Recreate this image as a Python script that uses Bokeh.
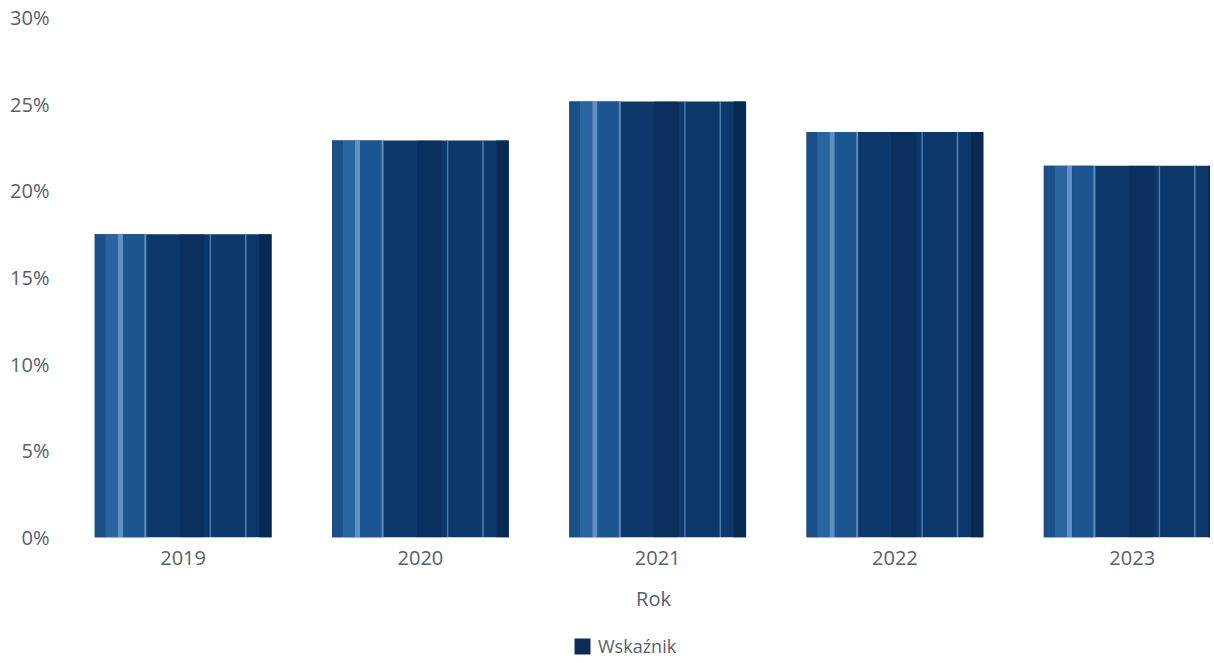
from bokeh.plotting import figure
from bokeh.models import FixedTicker, NumeralTickFormatter, Legend, LegendItem, Range1d
from bokeh.layouts import column
from bokeh.core.properties import value
from bokeh.embed import file_html
from bokeh.resources import INLINE

years = ["2019", "2020", "2021", "2022", "2023"]
values = [0.175, 0.229, 0.2515, 0.234, 0.2145]
y_ticks = [0.0, 0.05, 0.10, 0.15, 0.20, 0.25, 0.30]
x_title = "Rok"
series_name = "Wskaźnik"

idx = list(range(len(years)))
FONT = "Open Sans"
LABEL_COLOR = "#56606b"
BAR_COLOR = "#0d386b"
BAR_W = 0.745
W = 1210
LEFT = 64

p = figure(width=W, height=575, output_backend="svg", toolbar_location=None,
           x_range=Range1d(-0.5, 4.33), y_range=Range1d(0, 0.30),
           min_border_left=LEFT, min_border_right=0, min_border_top=17, min_border_bottom=38)
p.outline_line_color = None
p.xgrid.grid_line_color = None
p.ygrid.grid_line_color = None

# base bars
base = p.vbar(x=idx, top=values, width=BAR_W, bottom=0, fill_color=BAR_COLOR, line_color=None)

# decorative shading (offsets relative to each bar, as fractions of bar width)
bands = [
    (0.00, 0.06, "#1b4f88", 1.0),
    (0.06, 0.07, "#2a65a0", 1.0),
    (0.13, 0.03, "#5e92c4", 1.0),
    (0.16, 0.12, "#1d5590", 1.0),
    (0.28, 0.012, "#5a8cc0", 1.0),
    (0.48, 0.14, "#082a55", 0.55),
    (0.65, 0.008, "#4c7cae", 1.0),
    (0.85, 0.008, "#5584b5", 1.0),
    (0.93, 0.07, "#082a52", 1.0),
]
for off, w, col, a in bands:
    xs = [i - BAR_W / 2 + (off + w / 2) * BAR_W for i in idx]
    p.vbar(x=xs, top=values, width=w * BAR_W, bottom=0, fill_color=col, fill_alpha=a, line_color=None)

# y axis
p.yaxis.ticker = FixedTicker(ticks=y_ticks)
p.yaxis.formatter = NumeralTickFormatter(format="0%")
p.yaxis.axis_line_color = None
p.yaxis.major_tick_line_color = None
p.yaxis.minor_tick_line_color = None
p.yaxis.major_label_text_font = FONT
p.yaxis.major_label_text_font_size = "20px"
p.yaxis.major_label_text_color = LABEL_COLOR
p.yaxis.major_label_standoff = 9

# x axis
p.xaxis.ticker = FixedTicker(ticks=idx)
p.xaxis.major_label_overrides = {i: y for i, y in zip(idx, years)}
p.xaxis.axis_line_color = None
p.xaxis.major_tick_line_color = None
p.xaxis.minor_tick_line_color = None
p.xaxis.major_label_text_font = FONT
p.xaxis.major_label_text_font_size = "20px"
p.xaxis.major_label_text_color = LABEL_COLOR
p.xaxis.major_label_standoff = 7

# lower strip: axis title and legend (its frame is aligned with the main frame)
H2 = 85
p2 = figure(width=W, height=H2, output_backend="svg", toolbar_location=None,
            x_range=Range1d(LEFT, W), y_range=Range1d(0, H2),
            x_axis_type=None, y_axis_type=None,
            min_border_left=LEFT, min_border_right=0, min_border_top=0, min_border_bottom=0)
p2.outline_line_color = None
p2.xgrid.grid_line_color = None
p2.ygrid.grid_line_color = None
p2.text(x=[653], y=[62], text=[x_title], text_font=value(FONT), text_font_size="20px",
        text_color=LABEL_COLOR, text_align="center", text_baseline="middle")
dummy = p2.vbar(x=[-1000], top=[0], bottom=[0], width=1, fill_color="#0b2d58", line_color=None)
legend = Legend(items=[LegendItem(label=series_name, renderers=[dummy])],
                location=(572 - LEFT, 2), orientation="horizontal",
                border_line_color=None, background_fill_alpha=0,
                label_text_font=FONT, label_text_font_size="18px",
                label_text_color=LABEL_COLOR,
                glyph_width=20, glyph_height=20, label_standoff=6,
                padding=0, margin=0, spacing=0)
p2.add_layout(legend, "center")

layout = column(p, p2, spacing=0)
open("out.html", "w").write(file_html(layout, INLINE))
